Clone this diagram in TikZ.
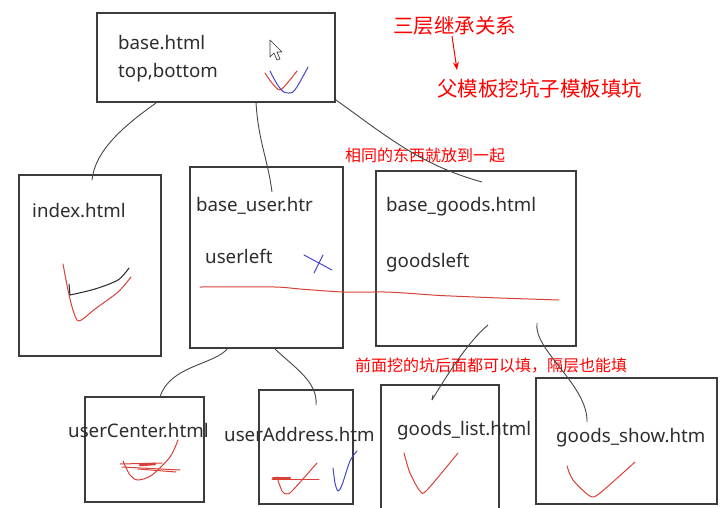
\documentclass[tikz,border=0pt]{standalone}
\usepackage{fontspec}
\setmainfont{Noto Sans}
\newfontfamily\cjk{Noto Sans CJK SC}
\usetikzlibrary{arrows.meta}
\definecolor{boxgray}{RGB}{60,60,60}
\definecolor{conngray}{RGB}{70,70,70}
\definecolor{inkred}{RGB}{215,65,55}
\definecolor{inkblue}{RGB}{70,70,200}
\definecolor{notered}{RGB}{255,0,0}
\tikzset{
  box/.style={draw=boxgray, line width=1.3pt, inner sep=0pt, outer sep=0pt, anchor=north west},
  lbl/.style={anchor=base west, inner sep=0pt, font=\fontsize{18.7}{21}\selectfont, text=black!82},
  note/.style={anchor=base west, inner sep=0pt, text=notered},
  conn/.style={draw=conngray, line width=0.9pt},
  redink/.style={draw=inkred, line width=1pt, line cap=round, line join=round},
  blueink/.style={draw=inkblue, line width=1pt, line cap=round, line join=round},
  blackink/.style={draw=black!85, line width=1pt, line cap=round}
}
\begin{document}
\begin{tikzpicture}[x=1pt,y=-1pt]
\useasboundingbox (0,0) rectangle (721,507);
\fill[white] (0,0) rectangle (721,507);

% boxes
\node[box, minimum width=238pt, minimum height=89pt] (base) at (97,13) {};
\node[box, minimum width=142pt, minimum height=181pt] (index) at (19,175) {};
\node[box, minimum width=153pt, minimum height=181pt] (buser) at (190,167) {};
\node[box, minimum width=200pt, minimum height=175pt] (bgoods) at (376,171) {};
\node[box, minimum width=119pt, minimum height=105pt] (ucenter) at (85,397) {};
\node[box, minimum width=94pt, minimum height=114pt] (uaddr) at (259,390) {};
\node[box, minimum width=118pt, minimum height=130pt] (glist) at (381,385) {};
\node[box, minimum width=181pt, minimum height=126pt] (gshow) at (536,378) {};

% labels
\node[lbl] (t1) at (118,49) {base.html};
\node[lbl] (t2) at (118,77) {top,bottom};
\node[lbl] (t3) at (32,217) {index.html};
\node[lbl] (t4) at (196,211) {base\_user.htr};
\node[lbl] (t5) at (205,263) {userleft};
\node[lbl] (t6) at (386,211) {base\_goods.html};
\node[lbl] (t7) at (386,267) {goodsleft};
\node[lbl] (t8) at (68,437) {userCenter.html};
\node[lbl] (t9) at (224,441) {userAddress.htm};
\node[lbl] (t10) at (397,435) {goods\_list.html};
\node[lbl] (t11) at (556,442) {goods\_show.htm};

% red notes
\node[note, font=\cjk\fontsize{20.5}{22}\selectfont] (n1) at (393,33) {三层继承关系};
\node[note, font=\cjk\fontsize{20.5}{22}\selectfont] (n2) at (437,96) {父模板挖坑子模板填坑};
\node[note, font=\cjk\fontsize{16}{18}\selectfont] (n3) at (345,161) {相同的东西就放到一起};
\node[note, font=\cjk\fontsize{16}{18}\selectfont] (n4) at (355,371) {前面挖的坑后面都可以填，隔层也能填};
\coordinate (a1) at (452,36);
\coordinate (a2) at (457,70);
\draw[draw=notered, line width=1pt, -{Stealth[length=8pt,width=6pt]}] (a1) -- (a2);

% connectors
\coordinate (c1s) at (156,103); \coordinate (c1e) at (92,180);
\coordinate (c2s) at (256,102); \coordinate (c2e) at (272,192);
\coordinate (c3s) at (336,100); \coordinate (c3e) at (482,182);
\coordinate (c4s) at (228,348); \coordinate (c4e) at (160,397);
\coordinate (c5s) at (275,349); \coordinate (c5e) at (316,405);
\coordinate (c6s) at (488,325); \coordinate (c6e) at (432,400);
\coordinate (c7s) at (537,323); \coordinate (c7e) at (587,422);
\draw[conn] (c1s) .. controls (125,125) and (95,150) .. (c1e);
\draw[conn] (c2s) .. controls (258,140) and (268,160) .. (c2e);
\draw[conn] (c3s) .. controls (385,135) and (420,165) .. (c3e);
\draw[conn] (c4s) .. controls (215,365) and (170,365) .. (c4e);
\draw[conn] (c5s) .. controls (295,368) and (318,382) .. (c5e);
\draw[conn] (c6s) .. controls (470,340) and (450,370) .. (c6e);
\draw[conn] (c6e) -- (433,395);
\draw[conn] (c7s) .. controls (533,350) and (588,385) .. (c7e);

% cursor
\coordinate (cur) at (270,40);
\draw[black!80, fill=white, line width=0.6pt, line join=round]
  (cur) -- (270,57) -- (274,53) -- (277,60) -- (280,59) -- (277,52) -- (282,52) -- cycle;

% ink: base box
\draw[redink] plot[smooth] coordinates {(265,73) (272,83) (280,90) (289,81) (297,71)};
\draw[blueink] plot[smooth] coordinates {(270,71) (277,84) (284,92) (293,92) (301,80) (308,67)};

% ink: index
\draw[redink] plot[smooth] coordinates {(63,264) (68,290) (73,310) (79,321) (95,309) (118,292) (131,277)};
\draw[blackink] plot[smooth] coordinates {(70,295) (95,289) (118,280) (129,268)};
\draw[blackink] (69,284) -- (70,295);

% ink: base_user
\draw[blueink] (304,255) -- (332,270);
\draw[blueink] (323,255) -- (314,273);
\draw[redink] plot[smooth, tension=0.4] coordinates {(200,287) (275,287) (300,289) (343,292) (385,292) (412,293.5) (440,295.5) (500,298) (559,300)};

% ink: userCenter
\draw[redink] plot[smooth] coordinates {(123,461) (130,475) (138,480) (152,475) (170,457) (178,440)};
\draw[redink] (120,464) -- (162,463);
\draw[redink] (122,467) -- (180,470);
\draw[redink] (138,469) -- (176,472);
\draw[redink, line width=2.5pt] (140,465) -- (155,464);

% ink: userAddress
\draw[redink] (272,479) -- (319,479);
\draw[redink, line width=2.5pt] (273,478) -- (290,478);
\draw[redink] plot[smooth] coordinates {(277,477) (282,491) (287,494) (293,490) (317,463)};
\draw[blueink] plot[smooth] coordinates {(333,468) (335,483) (338,491) (342,485) (350,461) (357,451)};

% ink: goods_list, goods_show
\draw[redink] plot[smooth] coordinates {(404,453) (410,473) (420,491) (427,490) (458,453)};
\draw[redink] plot[smooth] coordinates {(567,466) (573,480) (590,496) (600,493) (635,462)};
\end{tikzpicture}
\end{document}
